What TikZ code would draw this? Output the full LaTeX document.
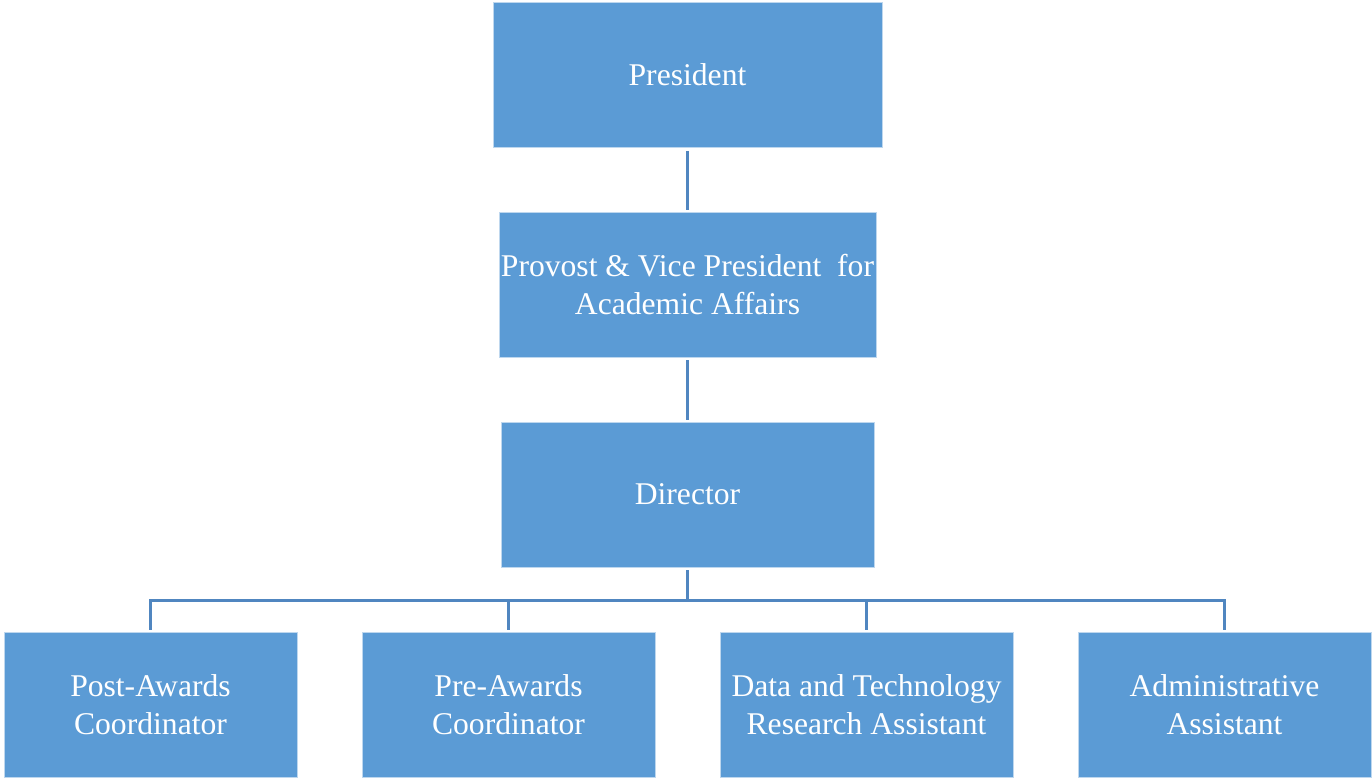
\documentclass[tikz,border=0pt]{standalone}
\usepackage{fontspec}
\setmainfont{Liberation Serif}
\usetikzlibrary{positioning}
\definecolor{mblue}{RGB}{91, 155, 213}
\definecolor{mline}{RGB}{80, 134, 192}
\definecolor{medge}{RGB}{190, 215, 238}

\begin{document}
\begin{tikzpicture}[x=0.02cm, y=-0.02cm,
    post/.style={draw=medge, line width=0.4pt, fill=mblue, text=white, align=center,
      font=\fontsize{18}{21.6}\selectfont, minimum height=2.9cm, inner sep=0pt},
    conn/.style={mline, line width=1.7pt, shorten <=0.06cm, shorten >=0.04cm}]
      \useasboundingbox (0, 0) rectangle (1372, 778);
      \node [post, minimum width=7.78cm] (pres) at (687.5, 75) {President};
      \node [post, minimum width=7.54cm] (prov) at (687.5, 284.5) {Provost \& Vice President\ \ for\\Academic Affairs};
      \node [post, minimum width=7.46cm] (dir) at (687.5, 494.5) {Director};
      \node [post, minimum width=5.86cm] (pawd) at (150.5, 705) {Post-Awards\\Coordinator};
      \node [post, minimum width=5.86cm] (prawd) at (508.5, 705) {Pre-Awards\\Coordinator};
      \node [post, minimum width=5.86cm] (data) at (866.5, 705) {Data and Technology\\Research Assistant};
      \node [post, minimum width=5.86cm] (admin) at (1224.5, 705) {Administrative\\Assistant};
      \coordinate (bus) at (687.5, 600);
      \draw [conn] (pres) -- (prov);
      \draw [conn] (prov) -- (dir);
      \foreach \c in {pawd, prawd, data, admin}
        \draw [conn] (dir.south) -- (bus) -| (\c.north);
    \end{tikzpicture}
\end{document}
